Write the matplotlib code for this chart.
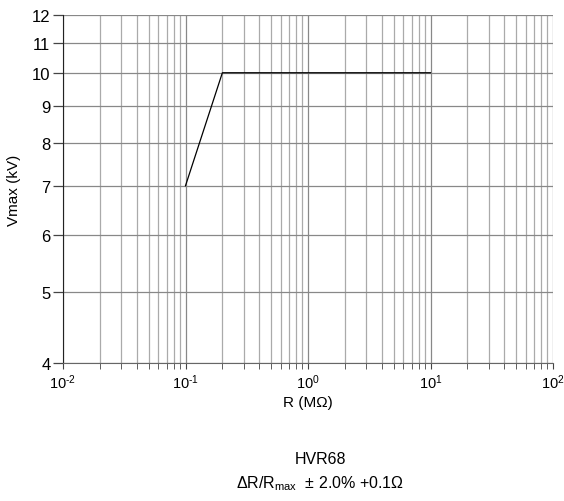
import matplotlib
matplotlib.use("Agg")
import matplotlib.pyplot as plt
from matplotlib.ticker import FixedLocator, FixedFormatter, LogLocator, NullFormatter

# data
r_vals = [0.1, 0.2, 10]
v_vals = [7, 10, 10]
y_ticks = [4, 5, 6, 7, 8, 9, 10, 11, 12]
x_ticks = [0.01, 0.1, 1, 10, 100]
x_labels = [r"$10^{\text{-}2}$", r"$10^{\text{-}1}$", r"$10^{0}$", r"$10^{1}$", r"$10^{2}$"]

plt.rcParams["font.family"] = ["Liberation Sans", "DejaVu Sans"]
plt.rcParams["mathtext.fontset"] = "custom"
plt.rcParams["mathtext.rm"] = "Liberation Sans"
plt.rcParams["mathtext.it"] = "Liberation Sans"
plt.rcParams["mathtext.bf"] = "Liberation Sans"

fig = plt.figure(figsize=(5.64, 5.02), dpi=100)
ax = fig.add_axes([63/564, 1-364/502, (553-63)/564, (364-16)/502])

ax.plot(r_vals, v_vals, color="black", lw=0.9)

ax.set_xscale("log")
ax.set_yscale("log")
ax.set_xlim(0.01, 100)
ax.set_ylim(4, 12)

ax.xaxis.set_major_locator(FixedLocator(x_ticks))
ax.xaxis.set_major_formatter(FixedFormatter(x_labels))
ax.xaxis.set_minor_locator(LogLocator(base=10, subs=range(2, 10)))
ax.xaxis.set_minor_formatter(NullFormatter())

ax.yaxis.set_major_locator(FixedLocator(y_ticks))
ax.yaxis.set_major_formatter(FixedFormatter([str(t) for t in y_ticks]))
ax.yaxis.set_minor_locator(FixedLocator([]))

ax.grid(True, which="major", color="#888888", lw=0.9)
ax.grid(True, which="minor", axis="x", color="#aaaaaa", lw=0.9)

for s in ["top", "right"]:
    ax.spines[s].set_visible(False)
ax.spines["left"].set_color("#222222")
ax.spines["bottom"].set_color("#666666")

ax.tick_params(axis="y", which="major", length=7, width=0.9, direction="out",
               color="#444444", labelsize=12, pad=2)
ax.tick_params(axis="x", which="both", length=4, direction="out",
               color="#444444", labelsize=10.5, pad=3)

ax.set_xlabel("R (MΩ)", fontsize=11, labelpad=3)
ax.set_ylabel("Vmax (kV)", fontsize=11, labelpad=8)

fig.text(320/564, 1-460/502, "HVR68", ha="center", va="center", fontsize=11.5)
fig.text(320/564, 1-484/502, r"$\Delta$R/R$_{\rm max}$  ± 2.0% +0.1Ω",
         ha="center", va="center", fontsize=11.5)

fig.savefig("out.png", dpi=100)
